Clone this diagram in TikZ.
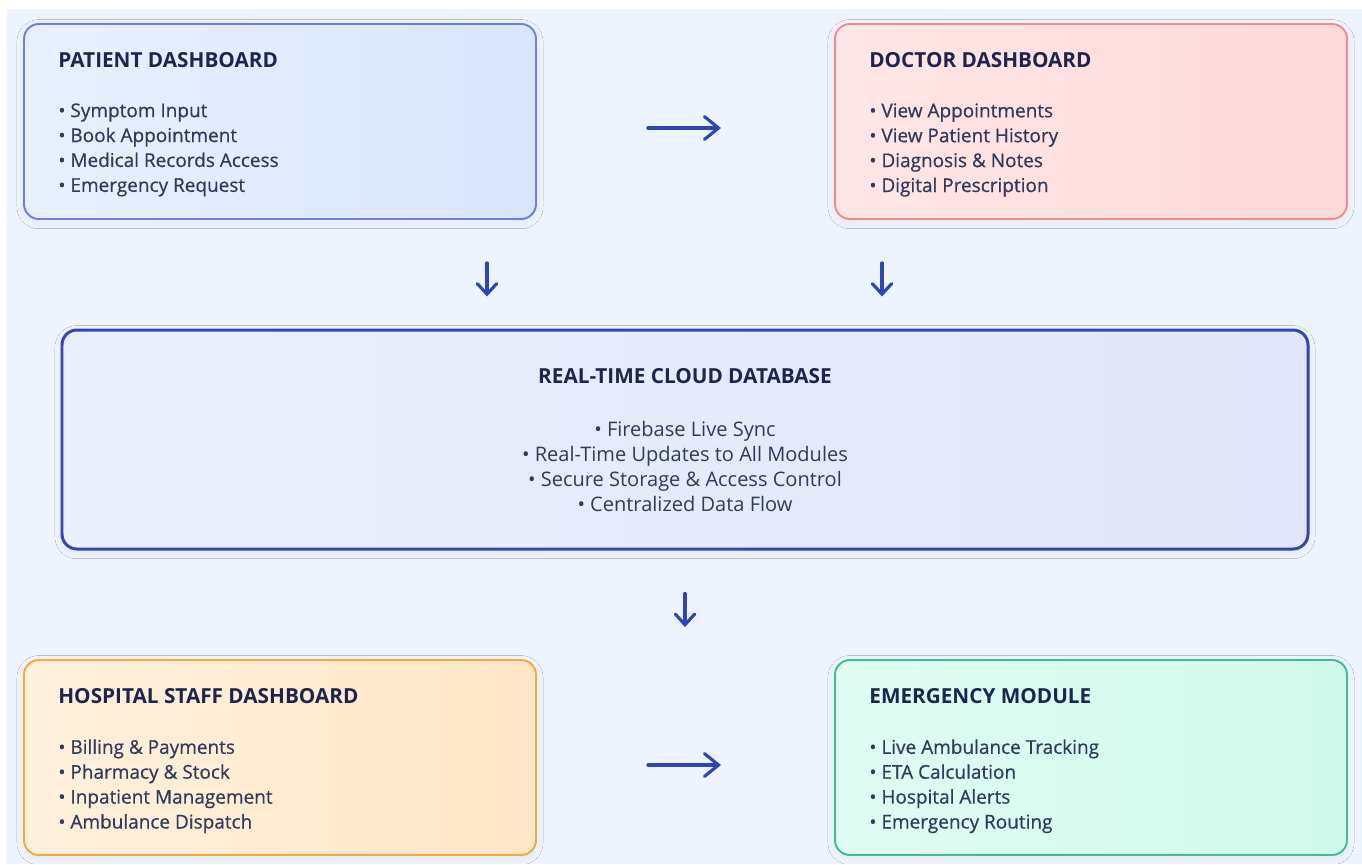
\documentclass[tikz,border=0pt]{standalone}
\usepackage{fontspec}
\setmainfont{Open Sans}
\newfontfamily\medfont[FakeBold=0.5]{Open Sans}
\usetikzlibrary{arrows.meta,shadows.blur}

\definecolor{bgblue}{HTML}{EEF4FD}
\definecolor{titleink}{HTML}{1B2550}
\definecolor{itemink}{HTML}{2F3A5C}
\definecolor{arrowblue}{HTML}{2E45B8}
\definecolor{patline}{HTML}{6E7FE6}
\definecolor{patfillA}{HTML}{E8F0FE}
\definecolor{patfillB}{HTML}{DAE6FD}
\definecolor{docline}{HTML}{F28B8B}
\definecolor{docfillA}{HTML}{FFE6E6}
\definecolor{docfillB}{HTML}{FFDADA}
\definecolor{cloudline}{HTML}{3447AE}
\definecolor{cloudfillA}{HTML}{EBEFFC}
\definecolor{cloudfillB}{HTML}{E1E6FA}
\definecolor{staffline}{HTML}{F5A93A}
\definecolor{stafffillA}{HTML}{FFF1DE}
\definecolor{stafffillB}{HTML}{FFE6C6}
\definecolor{emline}{HTML}{3FBF8F}
\definecolor{emfillA}{HTML}{E0FCF3}
\definecolor{emfillB}{HTML}{D0F9EB}

\tikzset{
  panel/.style={rectangle, rounded corners=0.3cm, line width=1.1pt,
    minimum width=10.24cm, minimum height=3.9cm,
    blur shadow={shadow blur steps=16, shadow blur radius=4pt, shadow xshift=0pt, shadow yshift=-1.5pt, shadow opacity=5}},
  paneltitle/.style={anchor=base west, inner sep=0pt, text=titleink,
    font=\fontsize{11.8}{14}\selectfont\bfseries},
  panellist/.style={anchor=north west, inner sep=0pt, text=itemink, align=left,
    font=\medfont\fontsize{10.8}{14.17}\selectfont},
  flow/.style={draw=arrowblue, line width=1.8pt, line cap=round,
    -{Straight Barb[length=8pt, width=13pt, line cap=round]}},
  downflow/.style={flow, -{Straight Barb[length=6pt, width=11pt, line cap=round]}},
}

\begin{document}
\begin{tikzpicture}
\useasboundingbox (0,0) rectangle (27.24,-17.28);
\fill[bgblue] (0.14,-0.18) rectangle (27.24,-17.28);

% the five modules
\node[panel, draw=patline, left color=patfillA, right color=patfillB] (patient) at (5.6,-2.43) {};
\node[panel, draw=docline, left color=docfillA, right color=docfillB] (doctor) at (21.82,-2.43) {};
\node[panel, draw=cloudline, line width=1.7pt, left color=cloudfillA, right color=cloudfillB,
  minimum width=24.92cm, minimum height=4.38cm] (cloud) at (13.7,-8.79) {};
\node[panel, draw=staffline, left color=stafffillA, right color=stafffillB] (staff) at (5.6,-15.15) {};
\node[panel, draw=emline, left color=emfillA, right color=emfillB] (emergency) at (21.82,-15.15) {};

% texts
\node[paneltitle] (patienttitle) at ([shift={(0.7,-0.88)}]patient.north west) {PATIENT DASHBOARD};
\node[panellist] (patientlist) at ([shift={(0.7,-1.6)}]patient.north west)
  {• Symptom Input\\• Book Appointment\\• Medical Records Access\\• Emergency Request};

\node[paneltitle] (doctortitle) at ([shift={(0.7,-0.88)}]doctor.north west) {DOCTOR DASHBOARD};
\node[panellist] (doctorlist) at ([shift={(0.7,-1.6)}]doctor.north west)
  {• View Appointments\\• View Patient History\\• Diagnosis \& Notes\\• Digital Prescription};

\node[paneltitle, anchor=base] (cloudtitle) at ([yshift=-1.1cm]cloud.north) {REAL-TIME CLOUD DATABASE};
\node[panellist, anchor=north, align=center, font=\fontsize{11.4}{14.17}\selectfont]
  (cloudlist) at ([yshift=-1.85cm]cloud.north)
  {• Firebase Live Sync\\• Real-Time Updates to All Modules\\• Secure Storage \& Access Control\\• Centralized Data Flow};

\node[paneltitle] (stafftitle) at ([shift={(0.7,-0.88)}]staff.north west) {HOSPITAL STAFF DASHBOARD};
\node[panellist] (stafflist) at ([shift={(0.7,-1.6)}]staff.north west)
  {• Billing \& Payments\\• Pharmacy \& Stock\\• Inpatient Management\\• Ambulance Dispatch};

\node[paneltitle] (emergencytitle) at ([shift={(0.7,-0.88)}]emergency.north west) {EMERGENCY MODULE};
\node[panellist] (emergencylist) at ([shift={(0.7,-1.6)}]emergency.north west)
  {• Live Ambulance Tracking\\• ETA Calculation\\• Hospital Alerts\\• Emergency Routing};

% arrows
\coordinate (cloudleft) at ([xshift=-3.96cm]cloud.north);
\coordinate (cloudright) at ([xshift=3.94cm]cloud.north);
\draw[flow, shorten <=2.22cm, shorten >=2.26cm]
  ([yshift=-0.13cm]patient.east) -- ([yshift=-0.13cm]doctor.west);
\draw[downflow, shorten <=0.86cm, shorten >=0.64cm] (cloudleft |- patient.south) -- (cloudleft);
\draw[downflow, shorten <=0.86cm, shorten >=0.64cm] (cloudright |- doctor.south) -- (cloudright);
\draw[downflow, shorten <=0.86cm, shorten >=0.64cm] (cloud.south) -- (cloud.south |- staff.north);
\draw[flow, shorten <=2.22cm, shorten >=2.26cm]
  ([yshift=-0.15cm]staff.east) -- ([yshift=-0.15cm]emergency.west);
\end{tikzpicture}
\end{document}
